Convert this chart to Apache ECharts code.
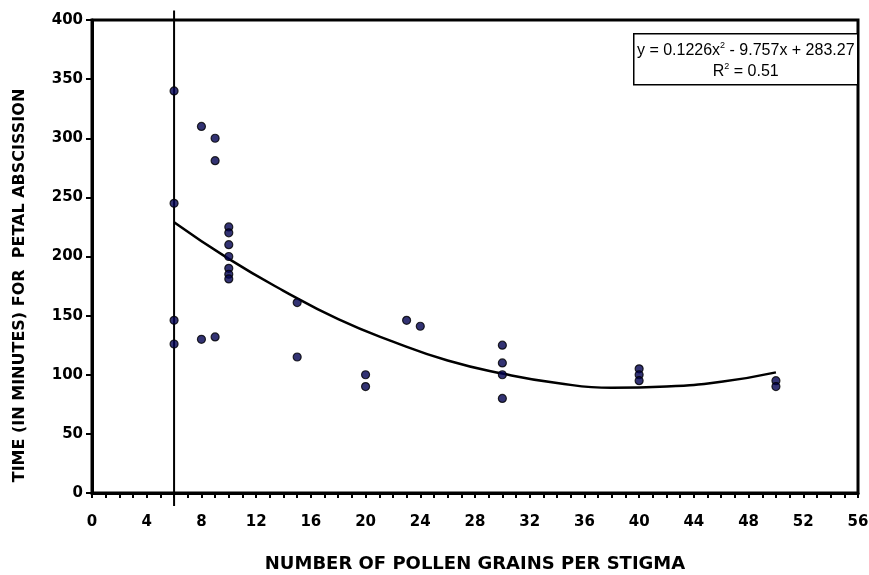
<!DOCTYPE html>
<html>
<head>
<meta charset="utf-8">
<script src="https://cdn.jsdelivr.net/npm/echarts@6/dist/echarts.min.js"></script>
<style>
  html, body { margin: 0; padding: 0; background: #fff; }
  #container { width: 869px; height: 575px; }
</style>
</head>
<body>
<div id="container"></div>
<script>
var myChart = echarts.init(document.getElementById('container'));

// observed points [pollen grains, minutes]
var points = [
  [6, 340], [6, 245], [6, 146], [6, 126],
  [8, 310], [8, 130],
  [9, 300], [9, 281], [9, 132],
  [10, 225], [10, 220], [10, 210], [10, 200], [10, 190], [10, 185], [10, 181],
  [15, 161], [15, 115],
  [20, 100], [20, 90],
  [23, 146], [24, 141],
  [30, 125], [30, 110], [30, 100], [30, 80],
  [40, 105], [40, 100], [40, 95],
  [50, 95], [50, 90]
];

// trend curve
var trendX = [6, 10, 14, 18, 22, 26, 30, 34, 38, 42, 46, 50];
var trendY = [229, 198, 171, 147, 128, 112, 101, 93, 89, 90, 94, 102];

var xTicks = [0, 4, 8, 12, 16, 20, 24, 28, 32, 36, 40, 44, 48, 52, 56];
var yTicks = [0, 50, 100, 150, 200, 250, 300, 350, 400];

// vertical reference line at x = 6
var refLine = [[6, 408], [6, -11]];

var trend = trendX.map(function(x, i) { return [x, trendY[i]]; });

var heavy = 'DejaVu Sans, Liberation Sans, Arial, sans-serif';

var option = {
  backgroundColor: '#fff',
  animation: false,
  grid: {
    left: 92,
    right: 11,
    top: 20,
    bottom: 82,
    outerBoundsMode: 'none',
    show: true,
    borderColor: '#000',
    borderWidth: 3
  },
  xAxis: {
    type: 'value',
    min: xTicks[0],
    max: xTicks[xTicks.length - 1],
    interval: 4,
    name: 'NUMBER OF POLLEN GRAINS PER STIGMA',
    nameLocation: 'middle',
    nameGap: 62,
    nameTextStyle: { color: '#000', fontFamily: heavy, fontWeight: 'bold', fontSize: 18 },
    axisLine: { show: true, onZero: false, lineStyle: { color: '#000', width: 3 } },
    axisTick: { show: true, inside: false, length: 5, lineStyle: { color: '#000', width: 2 } },
    minorTick: { show: true, splitNumber: 4, length: 5, lineStyle: { color: '#000', width: 2 } },
    axisLabel: { margin: 22, color: '#000', fontFamily: heavy, fontWeight: 'bold', fontSize: 15 },
    splitLine: { show: false }
  },
  yAxis: {
    type: 'value',
    min: yTicks[0],
    max: yTicks[yTicks.length - 1],
    interval: 50,
    name: 'TIME (IN MINUTES) FOR  PETAL ABSCISSION',
    nameLocation: 'middle',
    nameGap: 64,
    nameTextStyle: {
      color: '#000', fontFamily: heavy, fontWeight: 'bold', fontSize: 16,
      padding: [0, 58, 0, 0]
    },
    axisLine: { show: true, onZero: false, lineStyle: { color: '#000', width: 3 } },
    axisTick: { show: true, length: 6, lineStyle: { color: '#000', width: 2 } },
    axisLabel: { margin: 9, color: '#000', fontFamily: heavy, fontWeight: 'bold', fontSize: 15 },
    splitLine: { show: false }
  },
  graphic: [{
    type: 'group',
    left: 633,
    top: 33,
    children: [{
      type: 'rect',
      shape: { x: 0, y: 0, width: 224, height: 51 },
      style: { fill: '#fff', stroke: '#000', lineWidth: 1.5 }
    }, {
      type: 'text',
      x: 112,
      y: 17,
      style: {
        text: 'y = 0.1226x{s|2} - 9.757x + 283.27',
        fill: '#000',
        font: '16px Liberation Sans, Arial, sans-serif',
        align: 'center',
        verticalAlign: 'middle',
        rich: { s: { fontSize: 9, verticalAlign: 'top', padding: [0, 0, 11, 0] } }
      }
    }, {
      type: 'text',
      x: 112,
      y: 38,
      style: {
        text: 'R{s|2} = 0.51',
        fill: '#000',
        font: '16px Liberation Sans, Arial, sans-serif',
        align: 'center',
        verticalAlign: 'middle',
        rich: { s: { fontSize: 9, verticalAlign: 'top', padding: [0, 0, 11, 0] } }
      }
    }]
  }],
  series: [
    {
      name: 'reference',
      type: 'line',
      data: refLine,
      clip: false,
      symbol: 'none',
      lineStyle: { color: '#000', width: 2 },
      z: 1
    },
    {
      name: 'trend',
      type: 'line',
      data: trend,
      smooth: true,
      symbol: 'none',
      lineStyle: { color: '#000', width: 2.5 },
      z: 2
    },
    {
      name: 'observed',
      type: 'scatter',
      data: points,
      symbol: 'circle',
      symbolSize: 8,
      itemStyle: { color: '#000050', borderColor: '#000', borderWidth: 1.2 },
      z: 3
    }
  ]
};

myChart.setOption(option);
</script>
</body>
</html>
